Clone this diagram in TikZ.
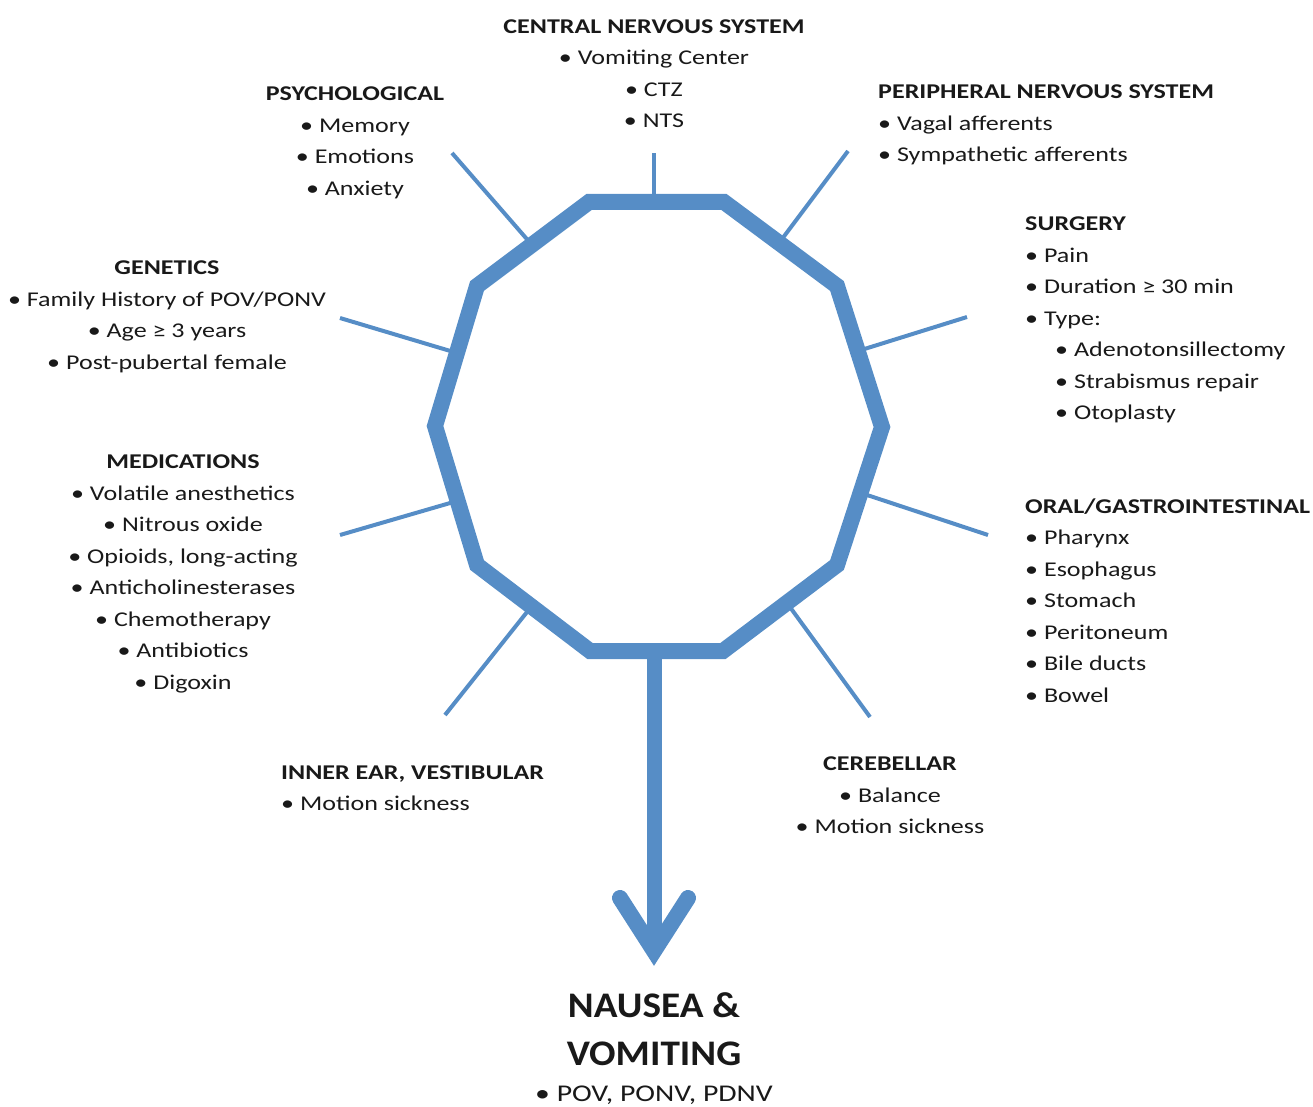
\documentclass[tikz,border=0pt]{standalone}
\usepackage{fontspec}
\setmainfont{Carlito}[FakeStretch=1.24]
\newfontfamily\titlefont{Carlito}[FakeStretch=1.09]
\definecolor{RingBlue}{RGB}{86,141,198}
\definecolor{InkGray}{RGB}{25,25,25}
\usepackage{tikz}
\usetikzlibrary{positioning, calc}

\tikzset{
  ring/.style={draw=RingBlue, line width=16pt, line join=miter},
  spoke/.style={draw=RingBlue, line width=4pt},
  shaft/.style={draw=RingBlue, line width=15pt},
  barb/.style={draw=RingBlue, line width=16pt, line cap=round, line join=miter},
  block/.style={inner sep=0pt, text=InkGray, font=\fontsize{21}{31.5}\selectfont},
  title/.style={inner sep=0pt, text=InkGray, font=\titlefont\fontsize{36}{48}\selectfont\bfseries, align=center}
}
\newcommand{\hd}[1]{\textbf{#1}}

\begin{document}
\begin{tikzpicture}[x=1pt, y=-1pt]
\useasboundingbox (0,0) rectangle (1313,1107);

% corners of the ring
\coordinate (v1) at (589,202);
\coordinate (v2) at (724,202);
\coordinate (v3) at (837,286);
\coordinate (v4) at (882,427);
\coordinate (v5) at (837,565);
\coordinate (v6) at (723,651);
\coordinate (v7) at (590,651);
\coordinate (v8) at (477,565);
\coordinate (v9) at (435,426);
\coordinate (v10) at (477,286);

% spokes
\coordinate (cnsin) at (654,202);   \coordinate (cnsout) at (654,153);
\coordinate (pnsin) at (779,243);   \coordinate (pnsout) at (848,151);
\coordinate (psyin) at (532,245);   \coordinate (psyout) at (452,153);
\coordinate (genin) at (457,353);   \coordinate (genout) at (340,318);
\coordinate (surin) at (858,351);   \coordinate (surout) at (967,317);
\coordinate (orin) at (861,493);    \coordinate (orout) at (988,535);
\coordinate (medin) at (457,501);   \coordinate (medout) at (340,535);
\coordinate (earin) at (531,607);   \coordinate (earout) at (445,715);
\coordinate (cerin) at (787,603);   \coordinate (cerout) at (870,717);
\foreach \s in {cns, pns, psy, gen, sur, or, med, ear, cer}
  \draw[spoke] (\s in) -- (\s out);

\draw[ring] (v1) -- (v2) -- (v3) -- (v4) -- (v5) -- (v6) -- (v7) -- (v8) -- (v9) -- (v10) -- cycle;

% arrow down to the outcome
\coordinate (base) at (654,651);
\coordinate (tip) at (654,951);
\coordinate (barbl) at (620,898);
\coordinate (barbr) at (688,898);
\draw[shaft] (base) -- ($(tip)+(0,-4)$);
\draw[barb] (barbl) -- (tip) -- (barbr);

\node[block, align=center, anchor=north] (cns) at (654,19.5)
  {\hd{CENTRAL NERVOUS SYSTEM}\\• Vomiting Center\\• CTZ\\• NTS};
\node[block, align=center, anchor=north] (psych) at (355,87)
  {\hd{PSYCHOLOGICAL}\\• Memory\\• Emotions\\• Anxiety};
\node[block, align=left, anchor=north west] (pns) at (878,85)
  {\hd{PERIPHERAL NERVOUS SYSTEM}\\• Vagal afferents\\• Sympathetic afferents};
\node[block, align=left, anchor=north west] (surgery) at (1025,217)
  {\hd{SURGERY}\\• Pain\\• Duration ≥ 30 min\\• Type:\\
   \hspace*{30pt}• Adenotonsillectomy\\\hspace*{30pt}• Strabismus repair\\\hspace*{30pt}• Otoplasty};
\node[block, align=center, anchor=north] (genetics) at (167,261)
  {\hd{GENETICS}\\• Family History of POV/PONV\\• Age ≥ 3 years\\• Post-pubertal female};
\node[block, align=center, anchor=north] (meds) at (183,455)
  {\hd{MEDICATIONS}\\• Volatile anesthetics\\• Nitrous oxide\\• Opioids, long-acting\\
   • Anticholinesterases\\• Chemotherapy\\• Antibiotics\\• Digoxin};
\node[block, align=left, anchor=north west] (oral) at (1025,498.5)
  {\hd{ORAL/GASTROINTESTINAL}\\• Pharynx\\• Esophagus\\• Stomach\\• Peritoneum\\• Bile ducts\\• Bowel};
\node[block, align=left, anchor=north west] (ear) at (281,765.5)
  {\hd{INNER EAR, VESTIBULAR}\\• Motion sickness};
\node[block, align=center, anchor=north] (cereb) at (890,757)
  {\hd{CEREBELLAR}\\• Balance\\• Motion sickness};

\node[title, anchor=north] (outcome) at (654,992) {NAUSEA \&\\VOMITING};
\node[block, font=\fontsize{24}{30}\selectfont, below=20pt of outcome] (types) {• POV, PONV, PDNV};
\end{tikzpicture}
\end{document}
